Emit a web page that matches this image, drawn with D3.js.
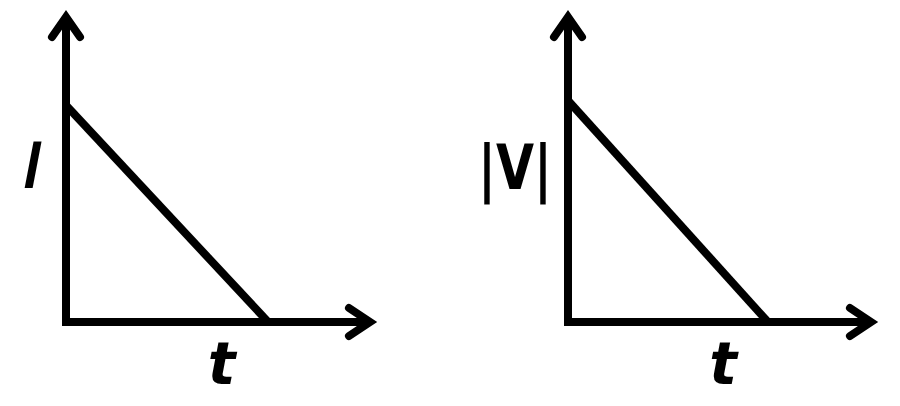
<!DOCTYPE html>
<html>
<head>
<meta charset="utf-8">
<script src="https://cdn.jsdelivr.net/npm/d3@7"></script>
<style>
  body { margin: 0; background: #fff; }
  svg { display: block; }
</style>
</head>
<body>
<div id="chart"></div>
<script>
// two sketch panels: I vs t and |V| vs t
var panelNames = ["current", "voltage"];
var yLabels = ["I", "|V|"];
var xLabels = ["t", "t"];
var timeValues = [[0, 6.5], [0, 6.45]];
var seriesValues = [[6.95, 0], [7.1, 0]];

var width = 900, height = 406;

var svg = d3.select("#chart")
  .append("svg")
    .attr("width", width)
    .attr("height", height);

// panel placement (origin + axis ends, outer tip of arrows)
var panels = [
  { left: 66, right: 377, top: 10, bottom: 322 },
  { left: 568, right: 878, top: 10, bottom: 322 }
];

panels.forEach(function(p, i) {
  var g = svg.append("g").attr("class", panelNames[i]);

  var x = d3.scaleLinear().domain([0, 10]).range([p.left, p.right]);
  var y = d3.scaleLinear().domain([0, 10]).range([p.bottom, p.top]);

  // axes
  g.append("path")
    .attr("d", "M" + x(0) + "," + (y(10) + 8) + "V" + (y(0) + 4) +
               "M" + (x(0) - 4) + "," + y(0) + "H" + (x(10) - 8))
    .attr("fill", "none")
    .attr("stroke", "#000")
    .attr("stroke-width", 8);

  // arrow heads (apex pulled in so the miter tip lands on the axis end)
  var ay = y(10) + 7;
  g.append("path")
    .attr("d", "M" + (x(0) - 14) + "," + (ay + 20) + "L" + x(0) + "," + ay +
               "L" + (x(0) + 14) + "," + (ay + 20))
    .attr("fill", "none")
    .attr("stroke", "#000")
    .attr("stroke-width", 8)
    .attr("stroke-linecap", "round")
    .attr("stroke-linejoin", "miter");

  var ax = x(10) - 7;
  g.append("path")
    .attr("d", "M" + (ax - 21) + "," + (y(0) - 14) + "L" + ax + "," + y(0) +
               "L" + (ax - 21) + "," + (y(0) + 14))
    .attr("fill", "none")
    .attr("stroke", "#000")
    .attr("stroke-width", 8)
    .attr("stroke-linecap", "round")
    .attr("stroke-linejoin", "miter");

  // the line
  var pts = timeValues[i].map(function(t, k) { return [t, seriesValues[i][k]]; });
  var line = d3.line()
    .x(function(d) { return x(d[0]); })
    .y(function(d) { return y(d[1]); });

  g.append("path")
    .datum(pts)
    .attr("d", line)
    .attr("fill", "none")
    .attr("stroke", "#000")
    .attr("stroke-width", 8);

  // labels
  g.append("text")
    .attr("x", x(5.0))
    .attr("y", 384)
    .attr("text-anchor", "middle")
    .style("font-family", "DejaVu Sans")
    .style("font-style", "italic")
    .style("font-weight", "bold")
    .style("font-size", "58px")
    .text(xLabels[i]);
});

svg.append("text")
  .attr("x", 33)
  .attr("y", 187)
  .attr("text-anchor", "middle")
  .attr("stroke", "#000")
  .attr("stroke-width", 2)
  .style("font-family", "DejaVu Sans")
  .style("font-style", "italic")
  .style("font-size", "60px")
  .text(yLabels[0]);

svg.append("text")
  .attr("x", 478)
  .attr("y", 189)
  .attr("textLength", 74)
  .attr("lengthAdjust", "spacingAndGlyphs")
  .style("font-family", "DejaVu Sans")
  .style("font-weight", "bold")
  .style("font-size", "62px")
  .text(yLabels[1]);
</script>
</body>
</html>
